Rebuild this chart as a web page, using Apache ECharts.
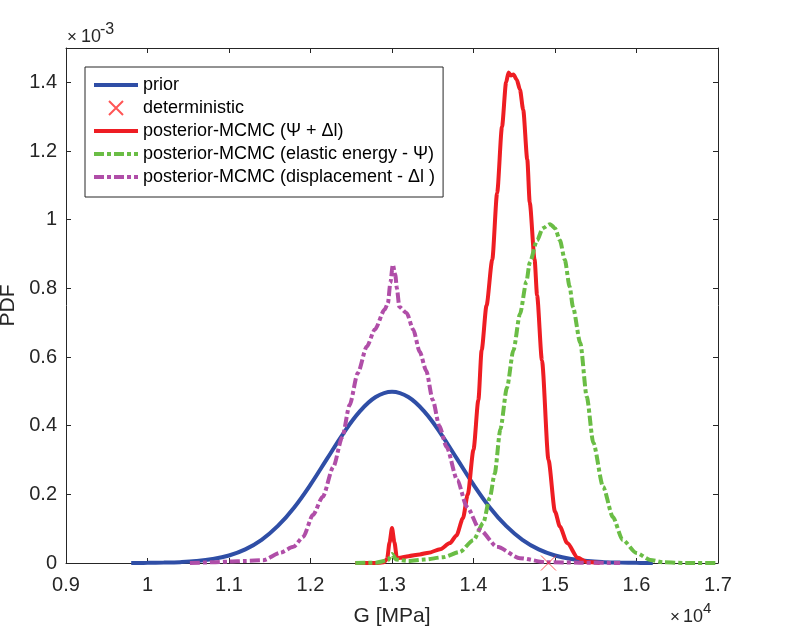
<!DOCTYPE html>
<html>
<head>
<meta charset="utf-8">
<script src="https://cdn.jsdelivr.net/npm/echarts@6/dist/echarts.min.js"></script>
<style>
html,body{margin:0;padding:0;background:#fff;}
#chart{width:800px;height:629px;}
</style>
</head>
<body>
<div id="chart"></div>
<script>
// ---- data (G in units of 1e4 MPa, PDF in units of 1e-3) ----
const seriesNames = ['prior', 'deterministic', 'posterior-MCMC (\u03A8 + \u0394l)', 'posterior-MCMC (elastic energy - \u03A8)', 'posterior-MCMC (displacement - \u0394l )'];
const xTickLabels = ['0.9','1','1.1','1.2','1.3','1.4','1.5','1.6','1.7'];
const yTickLabels = ['0','0.2','0.4','0.6','0.8','1','1.2','1.4'];

const priorG   = [0.98,0.99,1.00,1.02,1.04,1.06,1.08,1.10,1.12,1.14,1.16,1.18,1.20,1.22,1.24,1.26,1.28,1.30,1.32,1.34,1.36,1.38,1.40,1.42,1.44,1.46,1.48,1.50,1.52,1.54,1.56,1.58,1.60,1.61,1.62];
const priorPDF = [0.0002,0.0003,0.0004,0.0011,0.0025,0.0055,0.0114,0.0219,0.0397,0.0675,0.1079,0.1619,0.2283,0.3025,0.3764,0.4401,0.4833,0.4987,0.4833,0.4401,0.3764,0.3025,0.2283,0.1619,0.1079,0.0675,0.0397,0.0219,0.0114,0.0055,0.0025,0.0011,0.0004,0.0003,0.0002];

const detG   = [1.492];
const detPDF = [0];

const bothG   = [1.255,1.28,1.29,1.294,1.297,1.300,1.303,1.306,1.31,1.32,1.334,1.345,1.359,1.371,1.379,1.387,1.393,1.400,1.406,1.410,1.416,1.423,1.429,1.435,1.440,1.443,1.446,1.449,1.453,1.457,1.461,1.466,1.469,1.475,1.478,1.484,1.492,1.500,1.506,1.515,1.528,1.539,1.555];
const bothPDF = [0,0,0.002,0.012,0.06,0.102,0.06,0.014,0.015,0.02,0.025,0.03,0.04,0.058,0.08,0.13,0.2,0.33,0.475,0.62,0.75,0.883,1.078,1.271,1.40,1.429,1.42,1.423,1.408,1.379,1.32,1.175,1.05,0.883,0.78,0.59,0.30,0.15,0.106,0.058,0.015,0.003,0];

const energyG   = [1.255,1.28,1.295,1.300,1.305,1.32,1.34,1.363,1.383,1.400,1.412,1.420,1.426,1.433,1.441,1.449,1.457,1.465,1.469,1.478,1.485,1.494,1.500,1.506,1.512,1.518,1.522,1.531,1.539,1.547,1.559,1.571,1.583,1.600,1.617,1.633,1.66,1.70];
const energyPDF = [0,0.001,0.008,0.026,0.01,0.006,0.01,0.017,0.032,0.067,0.117,0.19,0.26,0.39,0.51,0.62,0.725,0.82,0.875,0.94,0.975,0.987,0.975,0.94,0.883,0.805,0.746,0.641,0.484,0.35,0.222,0.134,0.067,0.029,0.009,0.002,0,0];

const dispG   = [1.052,1.08,1.10,1.12,1.142,1.163,1.179,1.191,1.203,1.215,1.228,1.239,1.248,1.258,1.269,1.279,1.291,1.295,1.298,1.301,1.304,1.306,1.309,1.318,1.326,1.334,1.342,1.350,1.358,1.367,1.380,1.392,1.408,1.429,1.457,1.49,1.53,1.58];
const dispPDF = [0,0.002,0.004,0.006,0.008,0.03,0.047,0.076,0.14,0.193,0.28,0.367,0.46,0.553,0.63,0.68,0.738,0.757,0.816,0.869,0.84,0.80,0.746,0.728,0.68,0.615,0.56,0.475,0.40,0.338,0.242,0.163,0.096,0.047,0.014,0.002,0.001,0];

// ---- build ----
const zip = (a, b) => a.map((v, i) => [v, b[i]]);
const axisColor = '#262626';
const FONT = '"Liberation Sans", Arial, Helvetica, sans-serif';
const fmtX = v => { const i = Math.round((v - 0.9) / 0.1); const s = xTickLabels[i]; return (s !== undefined && Math.abs(v - (0.9 + i * 0.1)) < 1e-6) ? s : ''; };
const fmtY = v => { const i = Math.round(v / 0.2); const s = yTickLabels[i]; return (s !== undefined && Math.abs(v - i * 0.2) < 1e-6) ? s : ''; };
const NOFILL = 'rgba(0,0,0,0)';
const DASHDOT = [10, 3, 4, 3];

const baseAxis = {
  axisLine: { show: true, onZero: false, lineStyle: { color: axisColor, width: 1 } },
  axisTick: { show: true, inside: true, length: 5, lineStyle: { color: axisColor } },
  splitLine: { show: false },
};

const chart = echarts.init(document.getElementById('chart'), null, { renderer: 'canvas' });
chart.setOption({
  animation: false,
  backgroundColor: '#fff',
  textStyle: { fontFamily: FONT },
  grid: { left: 66, right: 82, top: 48, bottom: 66, containLabel: false, outerBoundsMode: 'none' },
  xAxis: [
    Object.assign({}, baseAxis, {
      type: 'value', position: 'bottom', min: 0.9, max: 1.7, interval: 0.1,
      axisLabel: { show: true, margin: 12, color: axisColor, fontSize: 20, fontFamily: FONT, formatter: fmtX },
      name: 'G [MPa]', nameLocation: 'middle', nameGap: 43,
      nameTextStyle: { color: axisColor, fontSize: 21, fontFamily: FONT }
    }),
    Object.assign({}, baseAxis, {
      type: 'value', position: 'top', min: 0.9, max: 1.7, interval: 0.1,
      axisLabel: { show: false }
    })
  ],
  yAxis: [
    Object.assign({}, baseAxis, {
      type: 'value', position: 'left', min: 0, max: 1.5, interval: 0.2,
      axisLabel: { show: true, margin: 9, color: axisColor, fontSize: 20, fontFamily: FONT, formatter: fmtY, showMaxLabel: false },
      name: 'PDF', nameLocation: 'middle', nameGap: 45,
      nameTextStyle: { color: axisColor, fontSize: 21, fontFamily: FONT }
    }),
    Object.assign({}, baseAxis, {
      type: 'value', position: 'right', min: 0, max: 1.5, interval: 0.2,
      axisLabel: { show: false }
    })
  ],
  legend: {
    orient: 'vertical', left: 85, top: 67,
    backgroundColor: '#fff', borderColor: axisColor, borderWidth: 1,
    padding: [8, 8, 10, 7],
    itemWidth: 44, itemHeight: 14, itemGap: 3,
    lineStyle: { width: 4 },
    textStyle: { fontSize: 18, fontFamily: FONT, color: '#000', lineHeight: 20 },
    data: seriesNames
  },
  graphic: [
    { type: 'text', left: 67, top: 29, style: { text: '\u00D7', fontSize: 17, fontFamily: FONT, fill: axisColor } },
    { type: 'text', left: 81, top: 28, style: { text: '10', fontSize: 18, fontFamily: FONT, fill: axisColor } },
    { type: 'text', left: 100, top: 22, style: { text: '-3', fontSize: 16, fontFamily: FONT, fill: axisColor } },
    { type: 'text', left: 670, top: 609, style: { text: '\u00D7', fontSize: 17, fontFamily: FONT, fill: axisColor } },
    { type: 'text', left: 683, top: 608, style: { text: '10', fontSize: 18, fontFamily: FONT, fill: axisColor } },
    { type: 'text', left: 703, top: 601, style: { text: '4', fontSize: 15, fontFamily: FONT, fill: axisColor } }
  ],
  series: [
    {
      name: seriesNames[0], type: 'line', data: zip(priorG, priorPDF),
      symbol: 'none', showSymbol: false, z: 2, smooth: 0.4,
      lineStyle: { color: '#2f4ea6', width: 4 }, itemStyle: { color: NOFILL }
    },
    {
      name: seriesNames[1], type: 'scatter', data: zip(detG, detPDF), z: 10,
      symbol: 'path://M0,0L10,10M10,0L0,10', symbolSize: 15,
      itemStyle: { color: NOFILL, borderColor: '#ff2a2a', borderWidth: 1 }
    },
    {
      name: seriesNames[2], type: 'line', data: zip(bothG, bothPDF),
      symbol: 'none', showSymbol: false, z: 3, smooth: 0.25, smoothMonotone: 'x',
      lineStyle: { color: '#ee1d23', width: 4 }, itemStyle: { color: NOFILL }
    },
    {
      name: seriesNames[3], type: 'line', data: zip(energyG, energyPDF),
      symbol: 'none', showSymbol: false, z: 4, smooth: 0.25, smoothMonotone: 'x',
      lineStyle: { color: '#6abd45', width: 4, type: DASHDOT }, itemStyle: { color: NOFILL }
    },
    {
      name: seriesNames[4], type: 'line', data: zip(dispG, dispPDF),
      symbol: 'none', showSymbol: false, z: 5, smooth: 0.25, smoothMonotone: 'x',
      lineStyle: { color: '#b04ea8', width: 4, type: DASHDOT }, itemStyle: { color: NOFILL }
    }
  ]
});
</script>
</body>
</html>
